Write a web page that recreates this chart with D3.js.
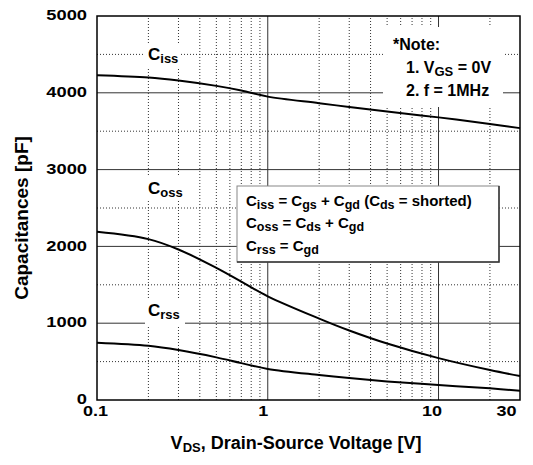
<!DOCTYPE html>
<html>
<head>
<meta charset="utf-8">
<script src="https://cdn.jsdelivr.net/npm/d3@7"></script>
<style>
  body { margin: 0; background: #fff; }
  svg { font-family: "Liberation Sans", Arial, sans-serif; font-weight: bold; }
</style>
</head>
<body>
<div id="chart"></div>
<script>
const vds = [0.1, 0.2, 0.3, 0.5, 0.7, 1, 2, 3, 5, 10, 20, 30];
const ciss = [4230, 4200, 4160, 4090, 4030, 3950, 3865, 3815, 3755, 3680, 3595, 3540];
const coss = [2190, 2095, 1960, 1720, 1540, 1350, 1060, 905, 735, 545, 390, 312];
const crss = [745, 705, 650, 555, 480, 405, 325, 285, 242, 195, 152, 121];

const xTicks = [0.1, 1, 10, 30];
const yTicks = [0, 1000, 2000, 3000, 4000, 5000];
const xMajorGrid = [1, 10];
const xMinorGrid = [0.2, 0.3, 0.4, 0.5, 0.6, 0.7, 0.8, 0.9, 2, 3, 4, 5, 6, 7, 8, 9, 20];
const yMajorGrid = [1000, 2000, 3000, 4000];
const yMinorGrid = [500, 1500, 2500, 3500, 4500];

const width = 533, height = 465;
const margin = { top: 16, right: 13, bottom: 65, left: 97 };

const svg = d3.select("#chart").append("svg")
  .attr("width", width).attr("height", height);

const x = d3.scaleLog().domain([0.1, 30]).range([margin.left, width - margin.right]);
const y = d3.scaleLinear().domain([0, 5000]).range([height - margin.bottom, margin.top]);

// stretch text horizontally (reference glyphs are wider than Arial)
function stretch(sel, k) {
  sel.each(function () {
    const w = this.getComputedTextLength();
    d3.select(this).attr("textLength", w * k).attr("lengthAdjust", "spacingAndGlyphs");
  });
}

// grid
const grid = svg.append("g");
grid.selectAll(".vminor").data(xMinorGrid).enter().append("line")
  .attr("x1", d => x(d)).attr("x2", d => x(d))
  .attr("y1", y(0)).attr("y2", y(5000))
  .attr("stroke", "#333").attr("stroke-width", 1).attr("stroke-dasharray", "1,2");
grid.selectAll(".hminor").data(yMinorGrid).enter().append("line")
  .attr("x1", x(0.1)).attr("x2", x(30))
  .attr("y1", d => y(d)).attr("y2", d => y(d))
  .attr("stroke", "#333").attr("stroke-width", 1).attr("stroke-dasharray", "1,2");
grid.selectAll(".vmajor").data(xMajorGrid).enter().append("line")
  .attr("x1", d => x(d)).attr("x2", d => x(d))
  .attr("y1", y(0)).attr("y2", y(5000))
  .attr("stroke", "#333").attr("stroke-width", 1);
grid.selectAll(".hmajor").data(yMajorGrid).enter().append("line")
  .attr("x1", x(0.1)).attr("x2", x(30))
  .attr("y1", d => y(d)).attr("y2", d => y(d))
  .attr("stroke", "#333").attr("stroke-width", 1);

// white patches behind labels
function patch(x0, y0, w, h) {
  svg.append("rect").attr("x", x0).attr("y", y0).attr("width", w).attr("height", h).attr("fill", "#fff");
}
patch(145, 44, 36, 24);
patch(145, 177, 40, 24);
patch(145, 300, 40, 26);
patch(383, 27, 120, 80);

// curves
const line = d3.line().x(d => x(d[0])).y(d => y(d[1])).curve(d3.curveCatmullRom.alpha(0.5));
[ciss, coss, crss].forEach(s => {
  svg.append("path")
    .datum(vds.map((v, i) => [v, s[i]]))
    .attr("fill", "none").attr("stroke", "#000").attr("stroke-width", 2)
    .attr("d", line);
});

// frame
svg.append("rect")
  .attr("x", x(0.1)).attr("y", y(5000))
  .attr("width", x(30) - x(0.1)).attr("height", y(0) - y(5000))
  .attr("fill", "none").attr("stroke", "#000").attr("stroke-width", 1.5);

// axes
const xAxis = svg.append("g")
  .attr("transform", `translate(0,${y(0)})`)
  .call(d3.axisBottom(x).tickValues(xTicks).tickSize(0).tickPadding(5).tickFormat(d => String(d)));
xAxis.select(".domain").remove();
xAxis.selectAll("text").attr("font-size", 15).attr("font-family", "Liberation Sans, Arial, sans-serif")
  .attr("font-weight", "bold").attr("fill", "#000")
  .attr("dx", d => d === 30 ? -14 : d === 10 ? -7 : d === 1 ? -5 : -2);
stretch(xAxis.selectAll("text"), 1.2);

const yAxis = svg.append("g")
  .attr("transform", `translate(${x(0.1)},0)`)
  .call(d3.axisLeft(y).tickValues(yTicks).tickSize(0).tickPadding(10).tickFormat(d3.format("d")));
yAxis.select(".domain").remove();
yAxis.selectAll("text").attr("font-size", 15).attr("font-family", "Liberation Sans, Arial, sans-serif")
  .attr("font-weight", "bold").attr("fill", "#000").attr("dy", "0.25em");
stretch(yAxis.selectAll("text"), 1.22);

// axis titles
const xt = svg.append("text").attr("x", 296).attr("y", 449).attr("text-anchor", "middle")
  .attr("font-size", 18);
xt.append("tspan").text("V");
xt.append("tspan").attr("font-size", 13).attr("dy", 3).text("DS");
xt.append("tspan").attr("dy", -3).text(", Drain-Source Voltage [V]");

svg.append("text").attr("transform", "translate(28,218) rotate(-90)")
  .attr("text-anchor", "middle").attr("font-size", 19).text("Capacitances [pF]");

// curve labels
function subLabel(px, py, main, sub) {
  const t = svg.append("text").attr("x", px).attr("y", py).attr("font-size", 17);
  t.append("tspan").text(main);
  t.append("tspan").attr("font-size", 13).attr("dy", 3).text(sub);
  return t;
}
subLabel(148, 60, "C", "iss");
subLabel(148, 194, "C", "oss");
subLabel(148, 316, "C", "rss");

// note
svg.append("text").attr("x", 393).attr("y", 50).attr("font-size", 16).text("*Note:");
const n1 = svg.append("text").attr("x", 406).attr("y", 73).attr("font-size", 16);
n1.append("tspan").text("1. V");
n1.append("tspan").attr("font-size", 13).attr("dy", 3).text("GS");
n1.append("tspan").attr("dy", -3).text(" = 0V");
svg.append("text").attr("x", 406).attr("y", 96).attr("font-size", 16).text("2. f = 1MHz");

// legend box
const lb = { x: 237, y: 186, w: 262, h: 76 };
svg.append("rect").attr("x", lb.x).attr("y", lb.y).attr("width", lb.w).attr("height", lb.h)
  .attr("fill", "#fff").attr("stroke", "#888").attr("stroke-width", 1);
svg.append("path").attr("d", `M${lb.x + lb.w},${lb.y} V${lb.y + lb.h} H${lb.x}`)
  .attr("fill", "none").attr("stroke", "#333").attr("stroke-width", 1.5);

function eqLine(py, parts) {
  const t = svg.append("text").attr("x", 246).attr("y", py).attr("font-size", 15);
  let down = false;
  parts.forEach(p => {
    const ts = t.append("tspan").text(p[0]);
    if (p[1]) { ts.attr("font-size", 12.5); if (!down) { ts.attr("dy", 3); down = true; } }
    else if (down) { ts.attr("dy", -3); down = false; }
  });
}
eqLine(206, [["C", 0], ["iss", 1], [" = C", 0], ["gs", 1], [" + C", 0], ["gd", 1], [" (C", 0], ["ds", 1], [" = shorted)", 0]]);
eqLine(228, [["C", 0], ["oss", 1], [" = C", 0], ["ds", 1], [" + C", 0], ["gd", 1]]);
eqLine(251, [["C", 0], ["rss", 1], [" = C", 0], ["gd", 1]]);
</script>
</body>
</html>
